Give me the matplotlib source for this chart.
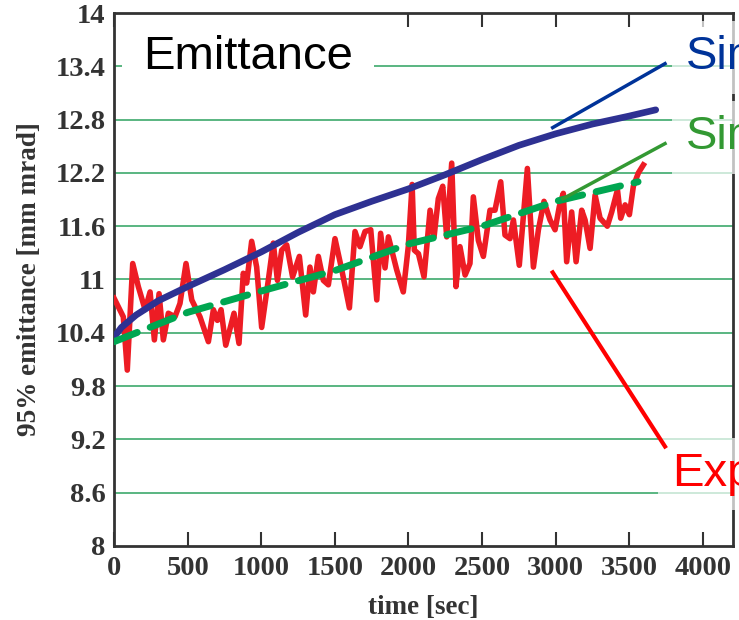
import matplotlib.pyplot as plt
import numpy as np

# --- data ---
exp_t = [0, 63, 90, 127, 165, 211, 245, 274, 306, 335, 369, 414, 448, 489, 528,
         584, 641, 675, 702, 727, 759, 815, 849, 878, 901, 935, 969, 1003, 1048,
         1082, 1110, 1139, 1173, 1213, 1259, 1302, 1331, 1354, 1388, 1422, 1456,
         1501, 1547, 1599, 1637, 1671, 1705, 1744, 1785, 1811, 1841, 1864, 1920,
         1965, 1999, 2025, 2040, 2068, 2106, 2147, 2174, 2203, 2233, 2260, 2294,
         2323, 2350, 2385, 2418, 2441, 2475, 2509, 2554, 2588, 2627, 2656, 2690,
         2713, 2753, 2808, 2849, 2883, 2921, 2962, 2996, 3025, 3052, 3075, 3109,
         3139, 3177, 3200, 3234, 3268, 3302, 3351, 3381, 3420, 3442, 3472, 3501,
         3528, 3562, 3596]
exp_y = [10.79, 10.58, 9.98, 11.18, 10.92, 10.66, 10.86, 10.32, 10.84, 10.32,
         10.62, 10.58, 10.73, 11.18, 10.77, 10.58, 10.30, 10.66, 10.54, 10.66,
         10.26, 10.62, 10.28, 11.07, 10.96, 11.43, 11.14, 10.46, 10.99, 11.41,
         10.99, 11.33, 11.39, 11.03, 11.26, 10.60, 11.14, 10.86, 11.26, 10.99,
         10.94, 11.46, 11.11, 10.68, 11.54, 11.37, 11.54, 11.56, 10.77, 11.52,
         11.13, 11.48, 11.11, 10.86, 11.37, 12.07, 11.33, 11.29, 11.03, 11.78,
         11.48, 11.91, 12.05, 11.48, 12.31, 10.92, 11.37, 11.05, 11.18, 11.93,
         11.44, 11.26, 11.78, 11.78, 12.10, 11.50, 11.46, 11.67, 11.16, 12.25,
         11.14, 11.56, 11.88, 11.67, 11.56, 11.82, 11.97, 11.20, 11.76, 11.20,
         11.78, 11.67, 11.35, 11.95, 11.69, 11.60, 11.76, 12.01, 11.69, 11.84,
         11.73, 12.05, 12.20, 12.29]

sim1_t = [0, 50, 150, 300, 500, 750, 1000, 1250, 1500, 1750, 2000, 2250, 2500,
          2750, 3000, 3250, 3500, 3680]
sim1_y = [10.35, 10.46, 10.60, 10.76, 10.92, 11.11, 11.31, 11.53, 11.73, 11.88,
          12.02, 12.18, 12.35, 12.51, 12.64, 12.75, 12.84, 12.91]

sim2_t = [0, 500, 1000, 1500, 2000, 2500, 3000, 3560]
sim2_y = [10.30, 10.63, 10.87, 11.10, 11.40, 11.60, 11.88, 12.10]

xticks = [0, 500, 1000, 1500, 2000, 2500, 3000, 3500, 4000]
yticks = [8, 8.6, 9.2, 9.8, 10.4, 11, 11.6, 12.2, 12.8, 13.4, 14]
ytick_labels = ['8', '8.6', '9.2', '9.8', '10.4', '11', '11.6', '12.2', '12.8', '13.4', '14']

serif = 'Liberation Serif'
sans = 'Liberation Sans'

fig = plt.figure(figsize=(7.39, 6.2), dpi=100)
ax = fig.add_axes([0.1543, 0.1194, 0.8376, 0.8596])

# gridlines
for y in yticks[1:]:
    ax.axhline(y, color='#2ca25f', lw=1.1, zorder=1)

ax.plot(exp_t, exp_y, color='#ed1c24', lw=4, zorder=3, solid_joinstyle='round')
ax.plot(sim1_t, sim1_y, color='#2e3192', lw=4.8, zorder=4, solid_capstyle='round')
ax.plot(sim2_t, sim2_y, color='#00a651', lw=5, zorder=5, dashes=(3.6, 2.0),
        dash_capstyle='round')

ax.set_xlim(0, 4205)
ax.set_ylim(8, 14)
ax.set_xticks(xticks)
ax.set_yticks(yticks)
ax.set_yticklabels(ytick_labels)
ax.tick_params(axis='x', direction='in', length=10, width=1.5, top=True,
               pad=7, colors='#333333')
ax.tick_params(axis='y', length=0, pad=6, colors='#333333')
for lab in ax.get_xticklabels() + ax.get_yticklabels():
    lab.set_fontfamily(serif)
    lab.set_fontweight('bold')
    lab.set_fontsize(20.5)
    lab.set_color('#333333')
for s in ax.spines.values():
    s.set_color('#333333')
    s.set_linewidth(2)

ax.set_xlabel('time [sec]', family=serif, weight='bold', fontsize=19.5,
              color='#333333', labelpad=10)
ax.set_ylabel('95% emittance [mm mrad]', family=serif, weight='bold',
              fontsize=19.5, color='#333333', labelpad=10)

ax.text(197, 13.50, 'Emittance', family=sans, fontsize=34, va='center',
        ha='left', zorder=2,
        bbox=dict(boxstyle='square,pad=0.45', fc='white', ec='none'))

# annotation callouts
ax.plot([2980, 3743], [12.71, 13.43], color='#003399', lw=2.5, zorder=8,
        clip_on=False)
ax.plot([3050, 3743], [11.91, 12.53], color='#339933', lw=2.5, zorder=8,
        clip_on=False)
ax.plot([2980, 3743], [11.08, 9.12], color='#ff0000', lw=3, zorder=8,
        clip_on=False)

box = dict(boxstyle='square,pad=0.3', fc='white', ec='none', alpha=0.7)
ax.text(3886, 13.50, 'Simulation', family=sans, fontsize=34, color='#003399',
        va='center', ha='left', clip_on=False, zorder=7, bbox=box)
ax.text(3886, 12.60, 'Simulation', family=sans, fontsize=34, color='#339933',
        va='center', ha='left', clip_on=False, zorder=7, bbox=box)
ax.text(3789, 8.81, 'Experiment', family=sans, fontsize=34, color='#ff0000',
        va='center', ha='left', clip_on=False, zorder=7, bbox=box)

fig.savefig('out.png', dpi=100)
